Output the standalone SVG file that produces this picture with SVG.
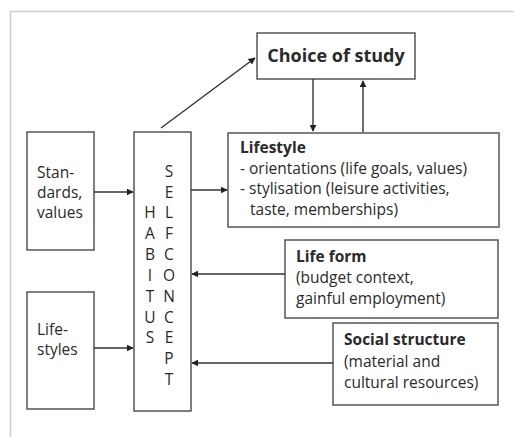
<svg xmlns="http://www.w3.org/2000/svg" width="514" height="437" viewBox="0 0 514 437">
<style>
.box{fill:#fff;stroke:#555;stroke-width:1.5}
.t{font-family:"Open Sans","Noto Sans","Liberation Sans",sans-serif;font-size:15.5px;fill:#2a2a2a}
.b{font-weight:bold}
.c{text-anchor:middle}
.ln{stroke:#333;stroke-width:1.4;fill:none;marker-end:url(#ah)}
</style>
<defs>
<marker id="ah" viewBox="0 0 10 10" refX="9" refY="5" markerWidth="7" markerHeight="7" markerUnits="userSpaceOnUse" orient="auto">
<path d="M0,0 L10,5 L0,10 z" fill="#222"/>
</marker>
</defs>
<rect width="514" height="437" fill="#fff"/>
<path d="M10.5,437 V11.5 H514" fill="none" stroke="#cfcfcf" stroke-width="1.5"/>

<g id="choice">
<rect class="box" x="257" y="33" width="158" height="46"/>
<text class="t b c" x="336" y="62" style="font-size:18px">Choice of study</text>
</g>

<g id="standards">
<rect class="box" x="27" y="132" width="67" height="118"/>
<text class="t" x="37" y="178">Stan-</text>
<text class="t" x="37" y="198">dards,</text>
<text class="t" x="37" y="218">values</text>
</g>

<g id="lifestyles">
<rect class="box" x="27" y="292" width="67" height="117"/>
<text class="t" x="37" y="335">Life-</text>
<text class="t" x="37" y="355">styles</text>
</g>

<g id="habitus">
<rect class="box" x="134" y="132" width="57" height="279"/>
<g class="t c">
<text x="150" y="218">H</text>
<text x="150" y="239">A</text>
<text x="150" y="260">B</text>
<text x="150" y="281">I</text>
<text x="150" y="302">T</text>
<text x="150" y="323">U</text>
<text x="150" y="343">S</text>
<text x="169" y="177">S</text>
<text x="169" y="198">E</text>
<text x="169" y="218">L</text>
<text x="169" y="239">F</text>
<text x="169" y="260">C</text>
<text x="169" y="281">O</text>
<text x="169" y="302">N</text>
<text x="169" y="323">C</text>
<text x="169" y="343">E</text>
<text x="169" y="364">P</text>
<text x="169" y="385">T</text>
</g>
</g>

<g id="lifestyle">
<rect class="box" x="228" y="133" width="271" height="94"/>
<text class="t b" x="240" y="153">Lifestyle</text>
<text class="t" x="240" y="174">- orientations (life goals, values)</text>
<text class="t" x="240" y="194">- stylisation (leisure activities,</text>
<text class="t" x="250" y="215">taste, memberships)</text>
</g>

<g id="lifeform">
<rect class="box" x="285" y="240" width="213" height="78"/>
<text class="t b" x="296" y="262">Life form</text>
<text class="t" x="296" y="283">(budget context,</text>
<text class="t" x="296" y="304">gainful employment)</text>
</g>

<g id="social">
<rect class="box" x="333" y="323" width="165" height="82"/>
<text class="t b" x="344" y="345">Social structure</text>
<text class="t" x="344" y="367">(material and</text>
<text class="t" x="344" y="388">cultural resources)</text>
</g>

<g id="connectors">
<line class="ln" x1="161" y1="128" x2="255" y2="58"/>
<line class="ln" x1="313" y1="79" x2="313" y2="131"/>
<line class="ln" x1="363" y1="132" x2="363" y2="81"/>
<line class="ln" x1="94" y1="192" x2="133" y2="192"/>
<line class="ln" x1="94" y1="348" x2="133" y2="348"/>
<line class="ln" x1="191" y1="190" x2="227" y2="190"/>
<line class="ln" x1="285" y1="274" x2="192" y2="274"/>
<line class="ln" x1="333" y1="363" x2="192" y2="363"/>
</g>
</svg>
